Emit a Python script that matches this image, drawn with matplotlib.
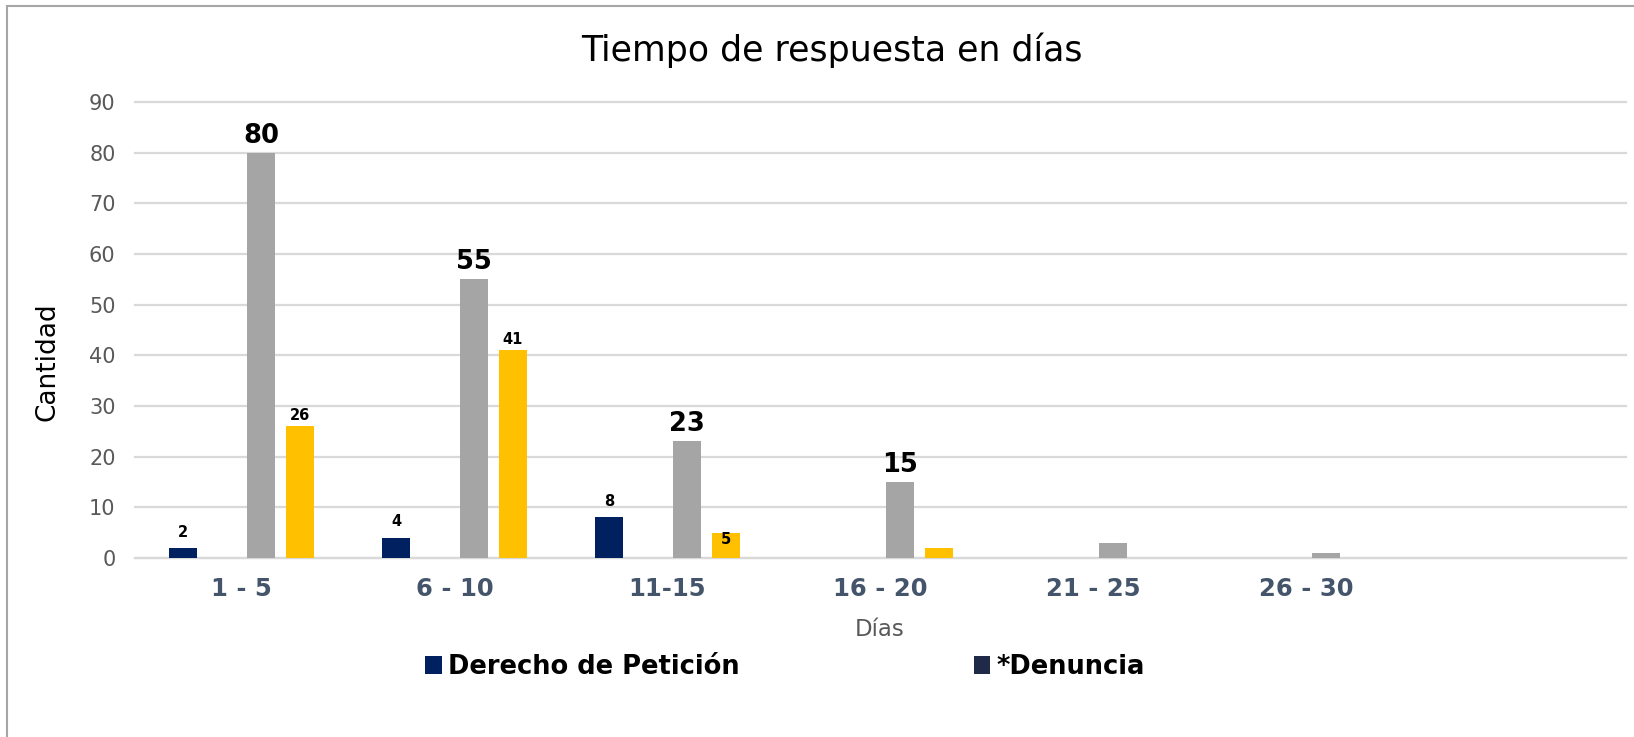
import matplotlib
matplotlib.use("Agg")
import matplotlib.pyplot as plt
import numpy as np
from matplotlib.patches import Rectangle

categories = ["1 - 5", "6 - 10", "11-15", "16 - 20", "21 - 25", "26 - 30", ""]
derecho = [2, 4, 8, 0, 0, 0, 0]
denuncia = [0, 0, 0, 0, 0, 0, 0]
gris = [80, 55, 23, 15, 3, 1, 0]
amarillo = [26, 41, 5, 2, 0, 0, 0]

derecho_labels = ["2", "4", "8", "", "", "", ""]
gris_labels = ["80", "55", "23", "15", "", "", ""]
amarillo_labels = ["26", "41", "5", "", "", "", ""]

title = "Tiempo de respuesta en días"
ylabel = "Cantidad"
xlabel = "Días"

plt.rcParams['font.family'] = ['DejaVu Sans']

W, H = 1634, 737
fig = plt.figure(figsize=(W / 100, H / 100), dpi=100)
ax = fig.add_axes([135 / W, 1 - 558 / H, (1626 - 135) / W, (558 - 102) / H])

# frame of the chart (only left and top visible)
fig.patches.append(Rectangle((7 / W, -0.1), 1.2, 1 - 6 / H + 0.1, transform=fig.transFigure,
                             fill=False, edgecolor="#A6A6A6", linewidth=1.5))

x = np.arange(len(categories))
width = 0.135
step = 0.183
series = [
    (derecho, "Derecho de Petición", "#002060"),
    (denuncia, "*Denuncia", "#1F2A48"),
    (gris, "_gris", "#A5A5A5"),
    (amarillo, "_amarillo", "#FFC000"),
]
containers = []
for i, (vals, name, col) in enumerate(series):
    c = ax.bar(x + (i - 1.5) * step, vals, width, color=col, label=name, zorder=3)
    containers.append(c)

def put_labels(vals, labels, idx, size, offsets):
    for j, (v, lab) in enumerate(zip(vals, labels)):
        if lab:
            ax.annotate(lab, xy=(x[j] + (idx - 1.5) * step, v), xytext=(0, offsets[j]),
                        textcoords="offset points", ha="center", va="bottom",
                        fontsize=size, fontweight="bold", color="black", zorder=5)

put_labels(derecho, derecho_labels, 0, 10.5, [6] * 7)
put_labels(gris, gris_labels, 2, 18.5, [3] * 7)
put_labels(amarillo, amarillo_labels, 3, 10.5, [2, 2, -10, 2, 2, 2, 2])

ax.set_xlim(-0.5, len(categories) - 0.5)
ax.set_ylim(0, 90)
ax.set_yticks(np.arange(0, 91, 10))
ax.grid(axis="y", color="#D9D9D9", linewidth=1.6, zorder=0)
for gl in ax.get_ygridlines():
    gl.set_clip_on(False)
for s in ["top", "right", "left"]:
    ax.spines[s].set_visible(False)
ax.spines["bottom"].set_color("#D9D9D9")
ax.spines["bottom"].set_linewidth(1.6)
ax.tick_params(axis="both", length=0)
ax.tick_params(axis="y", labelsize=15, labelcolor="#595959", pad=14)
ax.set_xticks(x)
ax.set_xticklabels(categories, fontsize=17.5, fontweight="bold", color="#44546A")
ax.tick_params(axis="x", pad=14)

fig.text(47 / W, 1 - 362 / H, ylabel, rotation=90, ha="center", va="center",
         fontsize=19, color="black")
fig.text(880 / W, 1 - 629 / H, xlabel, ha="center", va="center", fontsize=16.5, color="#595959")
fig.text(832 / W, 1 - 50 / H, title, ha="center", va="center", fontsize=25, color="black")

leg = fig.legend(handles=[containers[0], containers[1]], loc="center left",
                 bbox_to_anchor=(425 / W, 1 - 667 / H), ncol=2, frameon=False,
                 prop={"size": 18.5, "weight": "bold"}, handlelength=0.65, handleheight=0.75,
                 handletextpad=0.25, borderpad=0, borderaxespad=0, columnspacing=9.1)

fig.savefig("out.png", dpi=100)
